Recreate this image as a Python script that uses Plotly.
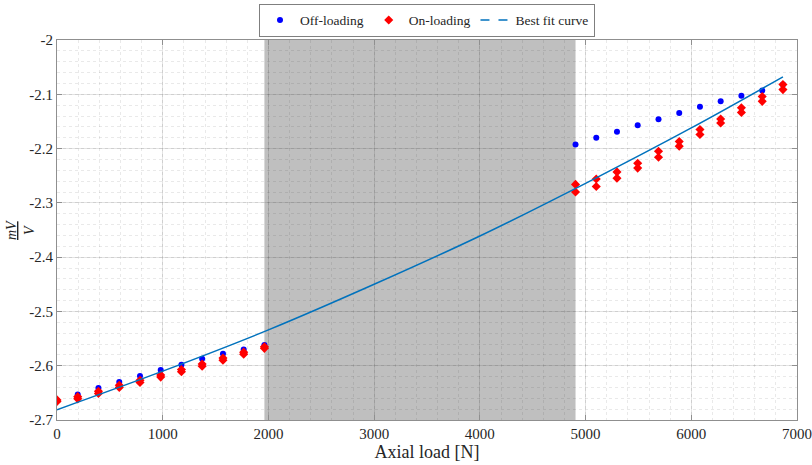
import plotly.graph_objects as go

# ---- data ----
load_left = [0, 196, 392, 589, 785, 981, 1177, 1373, 1570, 1766, 1962]
load_right = [4905, 5101, 5297, 5493, 5690, 5886, 6082, 6278, 6474, 6671, 6867]

off_left = [-2.664, -2.653, -2.641, -2.630, -2.619, -2.608, -2.598, -2.587, -2.578, -2.570, -2.562]
off_right = [-2.1925, -2.180, -2.169, -2.157, -2.146, -2.1345, -2.123, -2.113, -2.1025, -2.093, -2.082]

on_left_a = [-2.663, -2.657, -2.647, -2.636, -2.627, -2.617, -2.607, -2.597, -2.586, -2.575, -2.565]
on_left_b = [-2.666, -2.661, -2.651, -2.640, -2.631, -2.621, -2.611, -2.601, -2.590, -2.579, -2.568]
on_right_a = [-2.266, -2.256, -2.243, -2.227, -2.205, -2.187, -2.165, -2.1456, -2.1247, -2.104, -2.082]
on_right_b = [-2.280, -2.270, -2.2545, -2.236, -2.216, -2.1955, -2.174, -2.153, -2.1334, -2.113, -2.0914]

fit_load = [0, 1000, 2000, 3000, 4000, 5000, 6000, 6867]
fit_value = [-2.681, -2.610, -2.534, -2.450, -2.361, -2.264, -2.162, -2.068]

shade_range = [1962, 4905]

x_ticks = [0, 1000, 2000, 3000, 4000, 5000, 6000, 7000]
x_ticktext = ["0", "1000", "2000", "3000", "4000", "5000", "6000", "7000"]
y_ticks = [-2.7, -2.6, -2.5, -2.4, -2.3, -2.2, -2.1, -2.0]
y_ticktext = ["-2.7", "-2.6", "-2.5", "-2.4", "-2.3", "-2.2", "-2.1", "-2"]

FONT = "Liberation Serif"
TXT = "#262626"
AX = "#8f8f8f"
GRID = "rgba(38,38,38,0.13)"
MINOR = "rgba(38,38,38,0.10)"

off_x = load_left + load_right
off_y = off_left + off_right
on_x = load_left + load_left + load_right + load_right
on_y = on_left_a + on_left_b + on_right_a + on_right_b

fig = go.Figure()
fig.add_trace(go.Scatter(x=off_x, y=off_y, mode="markers", name="Off-loading",
                         marker=dict(symbol="circle", size=6, color="#0000ff")))
fig.add_trace(go.Scatter(x=on_x, y=on_y, mode="markers", name="On-loading",
                         marker=dict(symbol="diamond", size=7, color="#ff0000")))
fig.add_trace(go.Scatter(x=fit_load, y=fit_value, mode="lines", name="Best fit curve",
                         line=dict(color="#0072BD", width=1.5, shape="spline"),
                         showlegend=False))
fig.add_trace(go.Scatter(x=[None], y=[None], mode="lines", name="Best fit curve",
                         line=dict(color="#0072BD", width=1.5, dash="dash")))

fig.add_shape(type="rect", xref="x", yref="paper", x0=shade_range[0], x1=shade_range[1],
              y0=0, y1=1, fillcolor="rgb(191,191,191)", line=dict(width=0), layer="below")

axis_common = dict(
    showline=True, linecolor=AX, linewidth=1, mirror="ticks",
    ticks="inside", ticklen=5, tickcolor=AX,
    showgrid=True, gridcolor=GRID, gridwidth=1,
    zeroline=False, automargin=False,
    tickfont=dict(family=FONT, size=15, color=TXT),
)

fig.update_xaxes(range=[0, 7000], tickvals=x_ticks, ticktext=x_ticktext,
                 minor=dict(dtick=200, showgrid=True, gridcolor=MINOR, griddash="dot", ticks=""),
                 title=dict(text="Axial load [N]", font=dict(family=FONT, size=18, color=TXT), standoff=2),
                 **axis_common)
fig.update_yaxes(range=[-2.7, -2.0], tickvals=y_ticks, ticktext=y_ticktext,
                 minor=dict(dtick=0.02, showgrid=True, gridcolor=MINOR, griddash="dot", ticks=""),
                 **axis_common)

fig.add_annotation(text="<i><u>mV</u></i><br><i>V</i>", xref="paper", yref="paper",
                   x=-0.05, y=0.5, showarrow=False, textangle=-90,
                   font=dict(family=FONT, size=14, color=TXT), xanchor="center", yanchor="middle")

fig.update_layout(
    width=812, height=465,
    margin=dict(l=57, r=15, t=40, b=45, autoexpand=False),
    plot_bgcolor="white", paper_bgcolor="white",
    font=dict(family=FONT, size=15, color=TXT),
    legend=dict(orientation="h", x=0.5, xanchor="center", y=0.992, yanchor="top",
                xref="paper", yref="container",
                bordercolor="#7f7f7f", borderwidth=1, bgcolor="white",
                font=dict(family=FONT, size=13.5, color=TXT),
                itemwidth=30, tracegroupgap=0),
)

fig.write_html("out.html")
